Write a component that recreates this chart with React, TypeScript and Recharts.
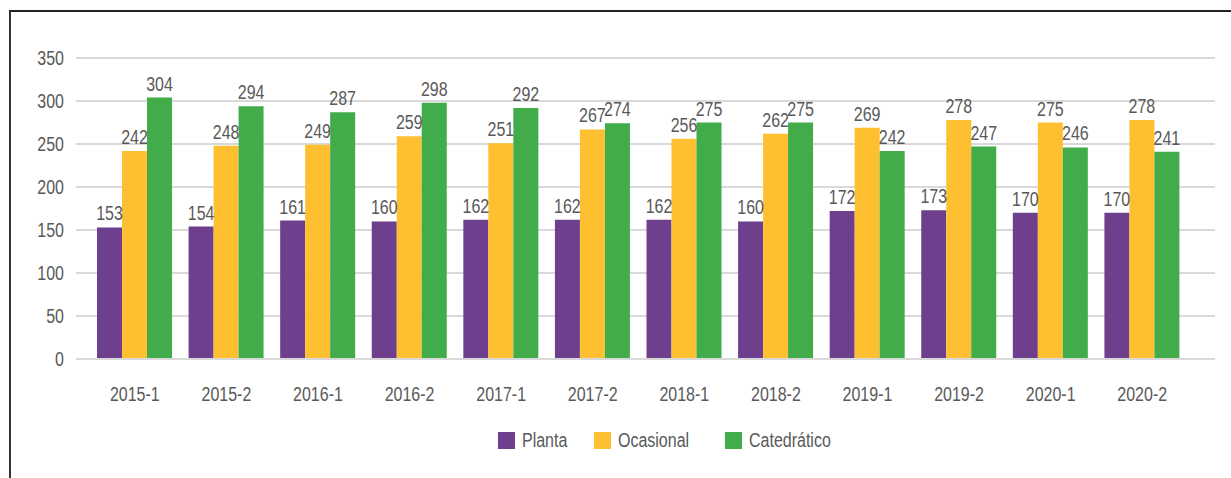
import React from 'react';
import { BarChart, Bar, XAxis, YAxis, CartesianGrid, Legend, LabelList } from 'recharts';

const categories = ['2015-1', '2015-2', '2016-1', '2016-2', '2017-1', '2017-2', '2018-1', '2018-2', '2019-1', '2019-2', '2020-1', '2020-2'];
const planta = [153, 154, 161, 160, 162, 162, 162, 160, 172, 173, 170, 170];
const ocasional = [242, 248, 249, 259, 251, 267, 256, 262, 269, 278, 275, 278];
const catedratico = [304, 294, 287, 298, 292, 274, 275, 275, 242, 247, 246, 241];
const yTicks = [0, 50, 100, 150, 200, 250, 300, 350];
const seriesNames = ['Planta', 'Ocasional', 'Catedrático'];

const data = categories.map((c, i) => ({
  name: c,
  Planta: planta[i],
  Ocasional: ocasional[i],
  'Catedrático': catedratico[i],
}));

const FONT = '"Liberation Sans", Arial, sans-serif';
const TEXT = '#595959';
const FS = 19.5;
const SX = 0.82;
const COLORS: Record<string, string> = { Planta: '#6E3F8C', Ocasional: '#FEC030', 'Catedrático': '#41AC49' };

const NarrowText = ({ x, y, anchor, children }: any) => (
  <text
    transform={`translate(${x},${y}) scale(${SX},1)`}
    textAnchor={anchor}
    fill={TEXT}
    fontSize={FS}
    fontFamily={FONT}
  >
    {children}
  </text>
);

const XTick = (props: any) => {
  const { x, y, payload } = props;
  return <NarrowText x={x} y={y + 15} anchor="middle">{payload.value}</NarrowText>;
};

const YTick = (props: any) => {
  const { x, y, payload } = props;
  return <NarrowText x={x} y={y + 7} anchor="end">{payload.value}</NarrowText>;
};

const ValueLabel = (props: any) => {
  const { x, y, width, value } = props;
  return <NarrowText x={Number(x) + Number(width) / 2} y={Number(y) - 7} anchor="middle">{value}</NarrowText>;
};

const itemWidths = [96, 131, 140];

const renderLegend = () => (
  <div style={{ display: 'flex', alignItems: 'center', height: 20, fontFamily: FONT, fontSize: FS, color: TEXT }}>
    {seriesNames.map((k, i) => (
      <div key={k} style={{ display: 'flex', alignItems: 'center', width: itemWidths[i], whiteSpace: 'nowrap' }}>
        <span style={{ display: 'inline-block', width: 17, height: 17, background: COLORS[k], marginRight: 7, flex: 'none' }} />
        <span style={{ display: 'inline-block', lineHeight: '20px', transform: `scale(${SX},1)`, transformOrigin: 'left center' }}>{k}</span>
      </div>
    ))}
  </div>
);

export default function App() {
  return (
    <div
      style={{
        position: 'absolute',
        left: 9,
        top: 10,
        width: 1222,
        height: 468,
        borderTop: '2px solid #222',
        borderLeft: '2px solid #333',
        boxSizing: 'border-box',
        background: '#fff',
      }}
    >
      <BarChart
        width={1218}
        height={460}
        data={data}
        margin={{ top: 46, right: 14, left: 0, bottom: 63 }}
        barGap={0}
        barCategoryGap={8}
        style={{ fontFamily: FONT }}
      >
        <CartesianGrid vertical={false} stroke="#D9D9D9" strokeWidth={2} />
        <XAxis
          dataKey="name"
          height={30}
          padding={{ left: 13, right: 27 }}
          tickLine={false}
          tickSize={0}
          tickMargin={27}
          axisLine={{ stroke: '#D9D9D9', strokeWidth: 2 }}
          tick={<XTick />}
        />
        <YAxis
          width={65}
          domain={[0, 350]}
          ticks={yTicks}
          axisLine={false}
          tickLine={false}
          tickSize={0}
          tickMargin={12}
          tick={<YTick />}
        />
        <Legend
          verticalAlign="bottom"
          height={20}
          content={renderLegend}
          wrapperStyle={{ left: 487, top: 418, width: 'auto' }}
        />
        <Bar dataKey="Planta" fill={COLORS.Planta} isAnimationActive={false}>
          <LabelList dataKey="Planta" content={<ValueLabel />} />
        </Bar>
        <Bar dataKey="Ocasional" fill={COLORS.Ocasional} isAnimationActive={false}>
          <LabelList dataKey="Ocasional" content={<ValueLabel />} />
        </Bar>
        <Bar dataKey="Catedrático" fill={COLORS['Catedrático']} isAnimationActive={false}>
          <LabelList dataKey="Catedrático" content={<ValueLabel />} />
        </Bar>
      </BarChart>
    </div>
  );
}
